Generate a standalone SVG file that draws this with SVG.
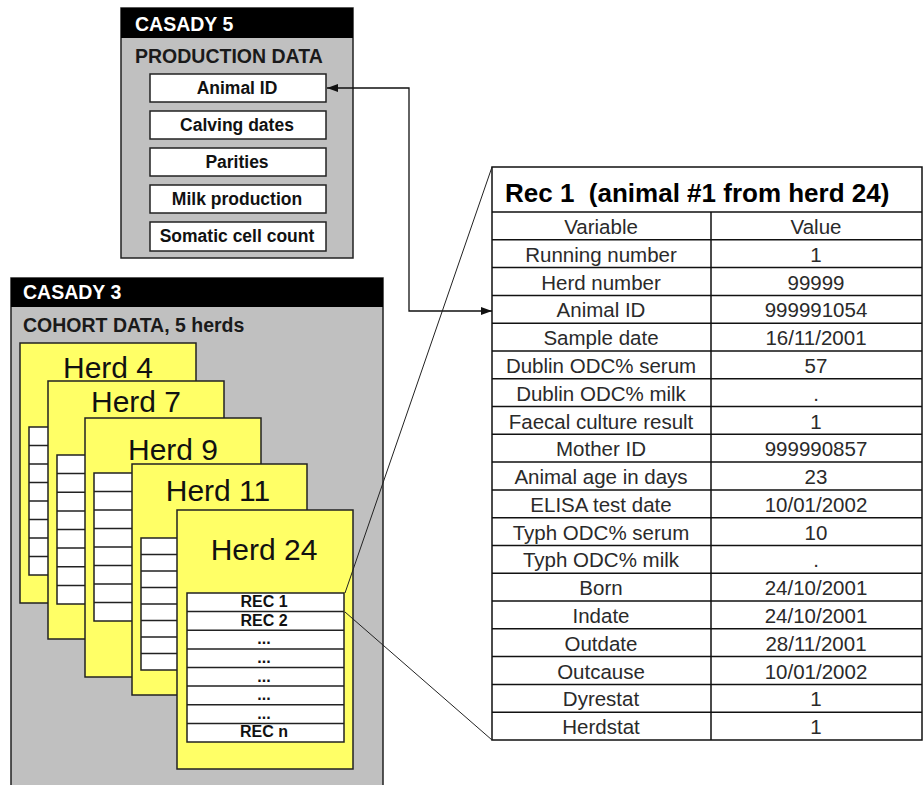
<svg xmlns="http://www.w3.org/2000/svg" width="924" height="785" viewBox="0 0 924 785">
<defs>
<style>
.hdr{fill:#000}
.panel{fill:#c0c0c0;stroke:#222;stroke-width:1.5}
.ht{font-family:"Liberation Sans",Arial,sans-serif;font-weight:bold;font-size:19.5px;fill:#fff}
.st{font-family:"Liberation Sans",Arial,sans-serif;font-weight:bold;font-size:19.5px;fill:#1a1a1a}
.wb{fill:#fff;stroke:#222;stroke-width:1.5}
.bt{font-family:"Liberation Sans",Arial,sans-serif;font-weight:bold;font-size:17.5px;fill:#111;text-anchor:middle}
.card{fill:#ffff66;stroke:#222;stroke-width:1.5}
.grid{fill:#fff;stroke:#222;stroke-width:1.5}
.gl{fill:none;stroke:#222;stroke-width:1.5}
.herd{font-family:"Liberation Sans",Arial,sans-serif;font-size:30px;fill:#111;text-anchor:middle}
.rec{font-family:"Liberation Sans",Arial,sans-serif;font-weight:bold;font-size:16px;fill:#111;text-anchor:middle}
.tb{fill:#fff;stroke:#111;stroke-width:1.5}
.tl{fill:none;stroke:#111;stroke-width:1.5}
.title{font-family:"Liberation Sans",Arial,sans-serif;font-weight:bold;font-size:26px;fill:#000;white-space:pre}
.c1,.c2{font-family:"Liberation Sans",Arial,sans-serif;font-size:20.5px;fill:#2a2a2a;text-anchor:middle}
.conn{fill:none;stroke:#111;stroke-width:1.3}
.zoom{fill:none;stroke:#222;stroke-width:1}
</style>
<marker id="ah" markerUnits="userSpaceOnUse" markerWidth="12" markerHeight="10" refX="11" refY="4" orient="auto-start-reverse">
<path d="M0,0 L11,4 L0,8 z" fill="#111"/>
</marker>
</defs>
<rect width="924" height="785" fill="#fff"/>

<g id="casady5">
<rect class="panel" x="121" y="8" width="232" height="250"/>
<rect class="hdr" x="121" y="8" width="232" height="30"/>
<text class="ht" x="135" y="31">CASADY 5</text>
<text class="st" x="135" y="63">PRODUCTION DATA</text>
<g id="pd-animal-id"><rect class="wb" x="150" y="74" width="176" height="28"/><text class="bt" x="237" y="94">Animal ID</text></g>
<g id="pd-calving"><rect class="wb" x="150" y="111" width="176" height="28"/><text class="bt" x="237" y="131">Calving dates</text></g>
<g id="pd-parities"><rect class="wb" x="150" y="148" width="176" height="28"/><text class="bt" x="237" y="168">Parities</text></g>
<g id="pd-milk"><rect class="wb" x="150" y="185" width="176" height="28"/><text class="bt" x="237" y="205">Milk production</text></g>
<g id="pd-scc"><rect class="wb" x="150" y="222" width="176" height="29"/><text class="bt" x="237" y="242">Somatic cell count</text></g>
</g>

<g id="casady3">
<rect class="panel" x="11" y="278" width="372" height="520"/>
<rect class="hdr" x="11" y="278" width="372" height="29"/>
<text class="ht" x="23" y="299">CASADY 3</text>
<text class="st" x="23" y="332">COHORT DATA, 5 herds</text>
</g>

<g id="herd4">
<rect class="card" x="20" y="343" width="176" height="260"/>
<text class="herd" x="108" y="378">Herd 4</text>
<rect class="grid" x="29" y="427" width="157" height="148"/>
<path class="gl" d="M29 445.5H186M29 464H186M29 482.5H186M29 501H186M29 519.5H186M29 538H186M29 556.5H186"/>
</g>

<g id="herd7">
<rect class="card" x="48" y="381" width="176" height="258"/>
<text class="herd" x="136" y="412">Herd 7</text>
<rect class="grid" x="57" y="455" width="157" height="149"/>
<path class="gl" d="M57 473.6H214M57 492.3H214M57 510.9H214M57 529.5H214M57 548.1H214M57 566.8H214M57 585.4H214"/>
</g>

<g id="herd9">
<rect class="card" x="85" y="418" width="176" height="259"/>
<text class="herd" x="173" y="460">Herd 9</text>
<rect class="grid" x="94" y="473" width="157" height="148"/>
<path class="gl" d="M94 491.5H251M94 510H251M94 528.5H251M94 547H251M94 565.5H251M94 584H251M94 602.5H251"/>
</g>

<g id="herd11">
<rect class="card" x="132" y="464" width="175" height="231"/>
<text class="herd" x="218" y="501">Herd 11</text>
<rect class="grid" x="141" y="538" width="157" height="132"/>
<path class="gl" d="M141 554.5H298M141 571H298M141 587.5H298M141 604H298M141 620.5H298M141 637H298M141 653.5H298"/>
</g>

<g id="herd24">
<rect class="card" x="177" y="510" width="176" height="259"/>
<text class="herd" x="264" y="560">Herd 24</text>
<rect class="grid" x="187" y="593" width="157" height="149"/>
<path class="gl" d="M187 611.6H344M187 630.3H344M187 648.9H344M187 667.5H344M187 686.1H344M187 704.8H344M187 723.4H344"/>
<text class="rec" x="264" y="607">REC 1</text>
<text class="rec" x="264" y="625.6">REC 2</text>
<text class="rec" x="264" y="644.2">...</text>
<text class="rec" x="264" y="662.9">...</text>
<text class="rec" x="264" y="681.5">...</text>
<text class="rec" x="264" y="700.1">...</text>
<text class="rec" x="264" y="718.7">...</text>
<text class="rec" x="264" y="737.3">REC n</text>
</g>

<g id="rec1-table">
<rect class="tb" x="492" y="167" width="430" height="573"/>
<path class="tl" d="M492 212H922M492 239.8H922M492 267.6H922M492 295.4H922M492 323.2H922M492 350.9H922M492 378.7H922M492 406.5H922M492 434.3H922M492 462.1H922M492 489.9H922M492 517.7H922M492 545.5H922M492 573.3H922M492 601.1H922M492 628.8H922M492 656.6H922M492 684.4H922M492 712.2H922M711 212V740"/>
<text class="title" x="505" y="202" xml:space="preserve">Rec 1  (animal #1 from herd 24)</text>
<g class="c1">
<text class="c1" x="601" y="234">Variable</text>
<text class="c1" x="601" y="262">Running number</text>
<text class="c1" x="601" y="290">Herd number</text>
<text class="c1" x="601" y="317">Animal ID</text>
<text class="c1" x="601" y="345">Sample date</text>
<text class="c1" x="601" y="373">Dublin ODC% serum</text>
<text class="c1" x="601" y="401">Dublin ODC% milk</text>
<text class="c1" x="601" y="429">Faecal culture result</text>
<text class="c1" x="601" y="456">Mother ID</text>
<text class="c1" x="601" y="484">Animal age in days</text>
<text class="c1" x="601" y="512">ELISA test date</text>
<text class="c1" x="601" y="540">Typh ODC% serum</text>
<text class="c1" x="601" y="567">Typh ODC% milk</text>
<text class="c1" x="601" y="595">Born</text>
<text class="c1" x="601" y="623">Indate</text>
<text class="c1" x="601" y="651">Outdate</text>
<text class="c1" x="601" y="679">Outcause</text>
<text class="c1" x="601" y="706">Dyrestat</text>
<text class="c1" x="601" y="734">Herdstat</text>
</g>
<g class="c2">
<text class="c2" x="816" y="234">Value</text>
<text class="c2" x="816" y="262">1</text>
<text class="c2" x="816" y="290">99999</text>
<text class="c2" x="816" y="317">999991054</text>
<text class="c2" x="816" y="345">16/11/2001</text>
<text class="c2" x="816" y="373">57</text>
<text class="c2" x="816" y="401">.</text>
<text class="c2" x="816" y="429">1</text>
<text class="c2" x="816" y="456">999990857</text>
<text class="c2" x="816" y="484">23</text>
<text class="c2" x="816" y="512">10/01/2002</text>
<text class="c2" x="816" y="540">10</text>
<text class="c2" x="816" y="567">.</text>
<text class="c2" x="816" y="595">24/10/2001</text>
<text class="c2" x="816" y="623">24/10/2001</text>
<text class="c2" x="816" y="651">28/11/2001</text>
<text class="c2" x="816" y="679">10/01/2002</text>
<text class="c2" x="816" y="706">1</text>
<text class="c2" x="816" y="734">1</text>
</g>
</g>

<g id="connectors">
<path class="conn" d="M327 88H409V311H492" marker-start="url(#ah)" marker-end="url(#ah)"/>
<path class="zoom" d="M492 167L345 593"/>
<path class="zoom" d="M492 740L345 612"/>
</g>
</svg>
